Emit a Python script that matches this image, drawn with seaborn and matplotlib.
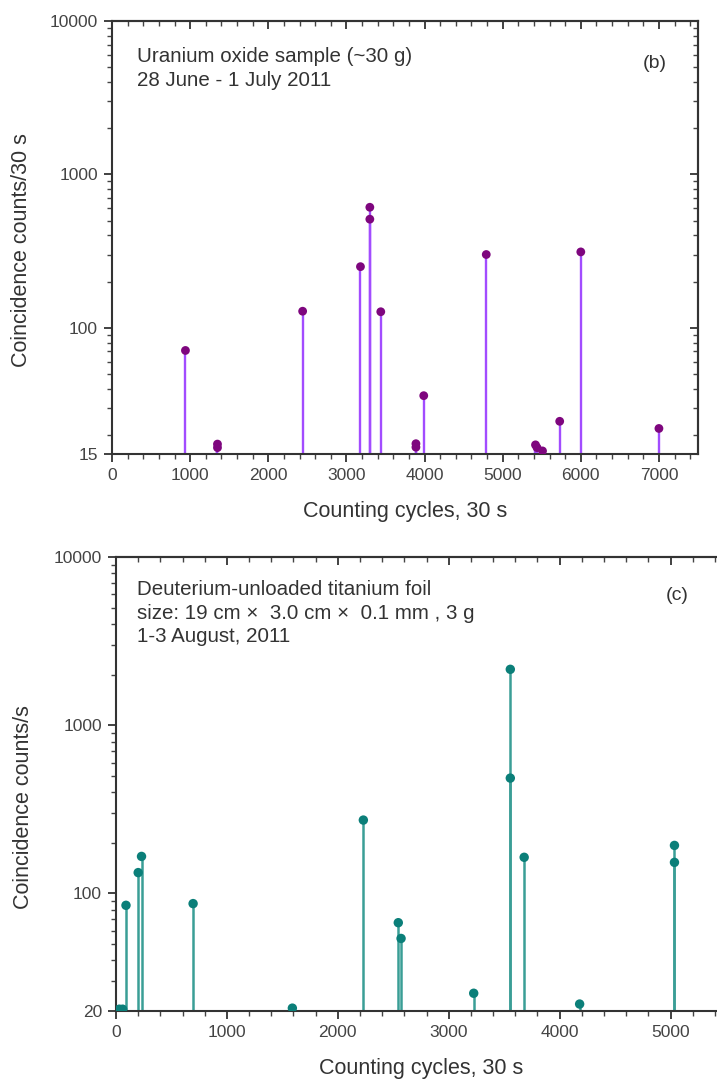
import numpy as np
import pandas as pd
import matplotlib
matplotlib.use("Agg")
import matplotlib.pyplot as plt
import seaborn as sns
from matplotlib.ticker import FixedLocator, LogLocator, MultipleLocator, NullFormatter, FixedFormatter

# ---------------- data ----------------
b_cycles = [940, 1350, 1350, 2440, 3180, 3300, 3300, 3440, 3890, 3890, 3990,
            4790, 5420, 5440, 5510, 5730, 6000, 7000]
b_counts = [71, 17.4, 16.5, 128, 250, 510, 610, 127, 17.5, 16.6, 36,
            300, 17.2, 16.5, 15.7, 24.5, 312, 22]

c_cycles = [30, 60, 90, 200, 230, 695, 1590, 2230, 2545, 2570, 3225,
            3555, 3555, 3680, 4180, 5035, 5035]
c_counts = [20.5, 20.5, 85, 133, 166, 87, 20.8, 273, 67, 54, 25.5,
            2150, 485, 164, 22, 153, 193]

b_yticks = [15, 100, 1000, 10000]
b_yticklabels = ["15", "100", "1000", "10000"]
c_yticks = [20, 100, 1000, 10000]
c_yticklabels = ["20", "100", "1000", "10000"]
b_xticks = [0, 1000, 2000, 3000, 4000, 5000, 6000, 7000]
c_xticks = [0, 1000, 2000, 3000, 4000, 5000]

b_text = ["Uranium oxide sample (~30 g)", "28 June - 1 July 2011"]
c_text = ["Deuterium-unloaded titanium foil",
          "size: 19 cm \u00d7  3.0 cm \u00d7  0.1 mm , 3 g",
          "1-3 August, 2011"]

# ---------------- style ----------------
sns.set_style("ticks")
plt.rcParams["font.family"] = ["Liberation Sans", "DejaVu Sans"]
plt.rcParams["axes.linewidth"] = 1.5
plt.rcParams["axes.edgecolor"] = "#333333"

TXT = "#333333"

fig = plt.figure(figsize=(7.17, 10.85), dpi=100)

def style_axes(ax, xlim, ylim, xticks, yticks, yticklabels, xlabel, ylabel, ylab_pos):
    ax.set_xscale("linear")
    ax.set_yscale("log")
    ax.set_xlim(*xlim)
    ax.set_ylim(*ylim)
    ax.xaxis.set_major_locator(FixedLocator(xticks))
    ax.xaxis.set_minor_locator(MultipleLocator(200))
    ax.xaxis.set_major_formatter(FixedFormatter([str(t) for t in xticks]))
    ax.yaxis.set_major_locator(FixedLocator(yticks))
    ax.yaxis.set_major_formatter(FixedFormatter(yticklabels))
    ax.yaxis.set_minor_locator(LogLocator(base=10, subs=np.arange(2, 10)))
    ax.yaxis.set_minor_formatter(NullFormatter())
    ax.tick_params(which="major", direction="out", length=6, width=1.3,
                   color="#333333", labelsize=12.5, labelcolor="#444444", pad=4)
    ax.tick_params(which="minor", direction="out", length=3.5, width=1.0, color="#444444")
    ax.tick_params(top=False, right=False)
    for s in ax.spines.values():
        s.set_linewidth(1.5)
        s.set_color("#333333")
        s.set_visible(True)
    ax.set_xlabel(xlabel, fontsize=15.5, color=TXT, labelpad=13)
    ax.set_ylabel(ylabel, fontsize=15.5, color=TXT)
    ax.yaxis.set_label_coords(*ylab_pos)

    secx = ax.secondary_xaxis("top")
    secx.xaxis.set_major_locator(FixedLocator(xticks))
    secx.xaxis.set_minor_locator(MultipleLocator(200))
    secx.tick_params(which="major", direction="in", length=6, width=1.3, color="#333333",
                     labeltop=False)
    secx.tick_params(which="minor", direction="in", length=3.5, width=1.0, color="#444444")
    secx.spines["top"].set_linewidth(1.5)

    secy = ax.secondary_yaxis("right")
    secy.yaxis.set_major_locator(FixedLocator([10, 100, 1000, 10000]))
    secy.yaxis.set_minor_locator(LogLocator(base=10, subs=np.arange(2, 10)))
    secy.yaxis.set_major_formatter(NullFormatter())
    secy.yaxis.set_minor_formatter(NullFormatter())
    secy.tick_params(which="major", direction="in", length=6, width=1.3, color="#333333",
                     labelright=False)
    secy.tick_params(which="minor", direction="in", length=3.5, width=1.0, color="#444444")
    secy.spines["right"].set_linewidth(1.5)

# ---------- panel (b) ----------
axb = fig.add_axes([0.1562, 0.5816, 0.8173, 0.3990])
df_b = pd.DataFrame({"cycles": b_cycles, "counts": b_counts})
axb.vlines(df_b["cycles"], 15, df_b["counts"], color="#a24cff", lw=1.7, zorder=2)
sns.scatterplot(data=df_b, x="cycles", y="counts", ax=axb, color="#7e067e",
                s=40, edgecolor="none", zorder=3, legend=False)
style_axes(axb, (0, 7500), (15, 10000), b_xticks, b_yticks, b_yticklabels,
           "Counting cycles, 30 s", "Coincidence counts/30 s", (-0.137, 0.47))
for i, line in enumerate(b_text):
    axb.text(0.043, 0.905 - i * 0.056, line, transform=axb.transAxes,
             fontsize=14.8, color=TXT, va="baseline", ha="left")
axb.text(0.927, 0.903, "(b)", transform=axb.transAxes, fontsize=14,
         color=TXT, va="center", ha="center")

# ---------- panel (c) ----------
axc = fig.add_axes([0.1618, 0.0682, 0.8508, 0.4184])
df_c = pd.DataFrame({"cycles": c_cycles, "counts": c_counts})
axc.vlines(df_c["cycles"], 20, df_c["counts"], color="#3a9e96", lw=1.8, zorder=2)
sns.scatterplot(data=df_c, x="cycles", y="counts", ax=axc, color="#0b7f79",
                s=46, edgecolor="none", zorder=3, legend=False)
style_axes(axc, (0, 5500), (20, 10000), c_xticks, c_yticks, c_yticklabels,
           "Counting cycles, 30 s", "Coincidence counts/s", (-0.134, 0.45))
for i, line in enumerate(c_text):
    axc.text(0.034, 0.916 - i * 0.052, line, transform=axc.transAxes,
             fontsize=14.8, color=TXT, va="baseline", ha="left")
axc.text(0.92, 0.916, "(c)", transform=axc.transAxes, fontsize=14,
         color=TXT, va="center", ha="center")

fig.savefig("out.png", dpi=100)
